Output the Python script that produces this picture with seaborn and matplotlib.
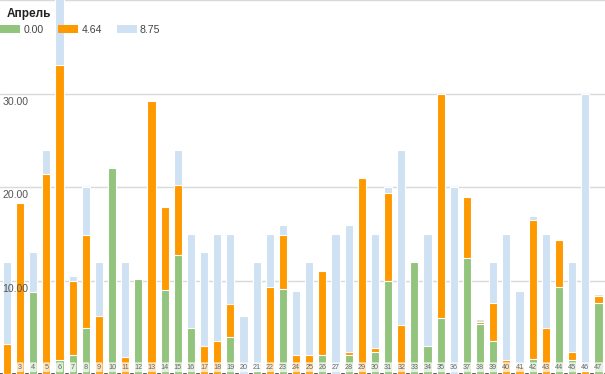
import matplotlib
matplotlib.use("Agg")
import matplotlib.pyplot as plt
import matplotlib.transforms as mtransforms
from matplotlib.patches import Patch
import numpy as np
import pandas as pd
import seaborn as sns

categories = [str(i) for i in range(2, 48)]
green = [0, 0, 8.75, 0, 1.5, 2.0, 4.9, 0, 22.0, 0, 10.2, 0, 9.0, 12.75, 4.9,
         0, 0, 4.0, 0, 0.3, 0, 9.1, 0, 0, 2.0, 0, 2.07, 0, 2.4, 10.0,
         0, 12.0, 3.0, 6.0, 0, 12.4, 5.4, 3.5, 0, 0, 1.6, 0, 9.3, 1.5, 0, 7.6]
orange = [3.2, 18.3, 0, 21.4, 31.5, 8.0, 10.0, 6.2, 0, 1.85, 0, 29.2, 8.9, 7.5, 0,
          3.0, 3.5, 3.5, 0, 0, 9.3, 5.8, 2.0, 2.0, 9.0, 0, 0.3, 21.0, 0.4, 9.4,
          5.25, 0, 0, 24.0, 0, 6.5, 0.2, 4.1, 1.5, 0.9, 14.9, 4.9, 5.05, 0.9, 0.3, 0.7]
blue = [8.8, 0, 4.25, 2.6, 9.0, 0.5, 5.1, 5.8, 0, 10.15, 0, 0, 0, 3.75, 10.1,
        10.0, 11.5, 7.5, 6.25, 11.7, 5.7, 1.0, 6.9, 10.0, 0, 15.0, 13.55, 0, 12.2, 0.6,
        18.75, 0, 12.0, 0, 20.0, 0, 0.3, 4.4, 13.5, 8.0, 0.4, 10.1, 0, 9.6, 29.7, 0.3]
series_names = ["0.00", "4.64", "8.75"]
legend_title = "Апрель"
y_ticks = [10, 20, 30]
hidden_labels = ["2"]

colors = ["#93c47d", "#ff9900", "#cfe2f3"]

df = pd.DataFrame({"cat": categories, "g": green, "o": orange, "b": blue})
df["top_g"] = df["g"]
df["top_o"] = df["g"] + df["o"]
df["top_b"] = df["g"] + df["o"] + df["b"]

sns.set_theme(style="white")
plt.rcParams["font.family"] = ["Liberation Sans", "DejaVu Sans"]

fig = plt.figure(figsize=(6.05, 3.74), dpi=100)
ax = fig.add_axes([0, 0, 1, 1])

for col, c in zip(["top_b", "top_o", "top_g"], [colors[2], colors[1], colors[0]]):
    sns.barplot(data=df, x="cat", y=col, order=categories, color=c,
                width=0.62, edgecolor="white", linewidth=0.8, ax=ax,
                saturation=1, zorder=3)

ax.set_ylim(0, 40)
ax.set_xlim(-0.53, len(categories) - 0.5)
ax.set_xlabel("")
ax.set_ylabel("")
ax.set_xticks([])
ax.set_yticks([])
for v in y_ticks + [40]:
    ax.axhline(v, color="#d9d9d9", linewidth=1.0, zorder=1)
for s in ["top", "left", "right"]:
    ax.spines[s].set_visible(False)
ax.spines["bottom"].set_color("#444444")
ax.spines["bottom"].set_linewidth(1.2)

trans = mtransforms.blended_transform_factory(ax.transAxes, ax.transData)
for v in y_ticks:
    ax.text(0.004, v - 0.35, f"{v:.2f}", transform=trans, ha="left", va="top",
            fontsize=7.6, color="#555555", zorder=5)

for i, c in enumerate(categories):
    if c in hidden_labels:
        continue
    ax.text(i, 0.72, c, ha="center", va="center", fontsize=5.2, color="#666666",
            zorder=6,
            bbox=dict(boxstyle="round,pad=0.2", fc="white", ec="none", alpha=0.75))

# legend title
fig.text(7 / 605, 1 - 8 / 374, legend_title, ha="left", va="top",
         fontsize=8.5, fontweight="bold", color="#222222", zorder=10)

handles = [Patch(facecolor=colors[k], edgecolor="none", label=series_names[k]) for k in range(3)]
leg = ax.legend(handles=handles, ncol=3, loc="upper left",
                bbox_to_anchor=(0.0, 1 - 25 / 374), frameon=False, fontsize=7.6,
                handlelength=1.9, handleheight=0.75, handletextpad=0.3,
                columnspacing=1.4, borderpad=0, borderaxespad=0)
for t in leg.get_texts():
    t.set_color("#444444")
leg.set_zorder(10)

fig.savefig("out.png", dpi=100)
